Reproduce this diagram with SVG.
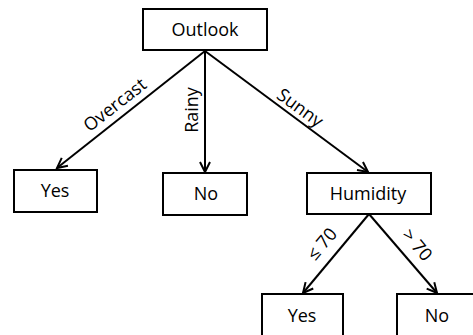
<svg xmlns="http://www.w3.org/2000/svg" width="473" height="335" viewBox="0 0 473 335">
<style>
.box{fill:#fff;stroke:#000;stroke-width:2}
.t{font-family:"Open Sans","Liberation Sans",sans-serif;font-size:18px;fill:#000;text-anchor:middle}
.e{stroke:#000;stroke-width:2;fill:none;marker-end:url(#arr)}
</style>
<defs>
<marker id="arr" markerUnits="userSpaceOnUse" markerWidth="14" markerHeight="14" refX="11" refY="6" orient="auto" viewBox="0 0 14 12">
<path d="M1,1 L11,6 L1,11" fill="none" stroke="#000" stroke-width="2"/>
</marker>
</defs>
<g id="connectors">
<line class="e" x1="205" y1="51" x2="57" y2="168"/>
<line class="e" x1="205" y1="51" x2="205" y2="172"/>
<line class="e" x1="205" y1="51" x2="368" y2="172"/>
<line class="e" x1="369" y1="214" x2="303" y2="293"/>
<line class="e" x1="369" y1="214" x2="437" y2="293"/>
<text class="t" transform="translate(115,105) rotate(-38)" y="6">Overcast</text>
<text class="t" transform="translate(192,110) rotate(-90)" y="6">Rainy</text>
<text class="t" transform="translate(300,108) rotate(36)" y="6">Sunny</text>
<text class="t" transform="translate(322,244) rotate(-50)" y="6">≤ 70</text>
<text class="t" transform="translate(417,245) rotate(50)" y="6">&gt; 70</text>
</g>
<g id="outlook"><rect class="box" x="143" y="9" width="124" height="41"/><text class="t" x="205" y="36">Outlook</text></g>
<g id="yes1"><rect class="box" x="14" y="170" width="83" height="42"/><text class="t" x="55" y="197">Yes</text></g>
<g id="no1"><rect class="box" x="163" y="173" width="84" height="42"/><text class="t" x="206" y="200">No</text></g>
<g id="humidity"><rect class="box" x="307" y="173" width="124" height="41"/><text class="t" x="368" y="200">Humidity</text></g>
<g id="yes2"><rect class="box" x="262" y="294" width="81" height="60"/><text class="t" x="302" y="322">Yes</text></g>
<g id="no2"><rect class="box" x="397" y="294" width="90" height="60"/><text class="t" x="437" y="322">No</text></g>
</svg>
